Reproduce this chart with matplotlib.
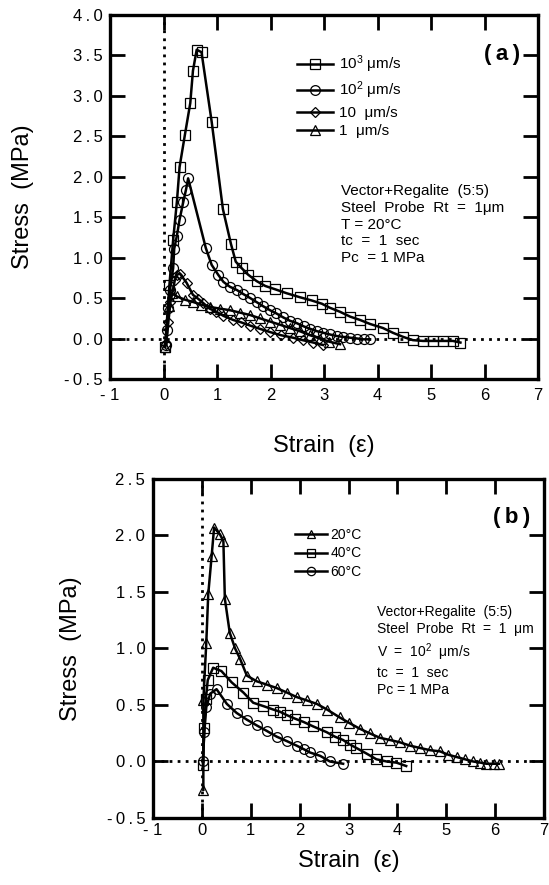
import numpy as np
import matplotlib
matplotlib.use('Agg')
import matplotlib.pyplot as plt
from matplotlib.lines import Line2D

plt.rcParams['font.family'] = ['Liberation Sans', 'DejaVu Sans']
plt.rcParams['mathtext.fontset'] = 'custom'
plt.rcParams['mathtext.rm'] = 'Liberation Sans'
plt.rcParams['mathtext.it'] = 'Liberation Sans:italic'

#------------------------------------------------
# (a) vitesses de traction, T = 20 C
v1000_x = [0.03, 0.11, 0.18, 0.25, 0.30, 0.40, 0.50, 0.55, 0.62, 0.71, 0.90, 1.11, 1.26, 1.35,
           1.46, 1.58, 1.74, 1.90, 2.08, 2.30, 2.55, 2.77, 2.96, 3.11, 3.30, 3.49, 3.67, 3.86,
           4.10, 4.29, 4.48, 4.66, 4.85, 5.04, 5.23, 5.41, 5.55]
v1000_y = [-0.10, 0.66, 1.22, 1.69, 2.12, 2.52, 2.91, 3.31, 3.57, 3.54, 2.68, 1.60, 1.17, 0.95,
           0.87, 0.79, 0.71, 0.65, 0.61, 0.56, 0.51, 0.47, 0.43, 0.38, 0.33, 0.27, 0.23, 0.18,
           0.13, 0.07, 0.02, -0.02, -0.03, -0.03, -0.03, -0.03, -0.05]

v100_x = [0.05, 0.07, 0.09, 0.12, 0.18, 0.20, 0.25, 0.30, 0.37, 0.42, 0.46, 0.79, 0.90, 1.02,
          1.12, 1.24, 1.37, 1.49, 1.62, 1.74, 1.86, 1.99, 2.11, 2.24, 2.36, 2.49, 2.62, 2.74,
          2.87, 2.99, 3.11, 3.24, 3.36, 3.49, 3.62, 3.74, 3.86]
v100_y = [-0.08, 0.11, 0.38, 0.60, 0.87, 1.11, 1.27, 1.47, 1.69, 1.84, 1.98, 1.12, 0.91, 0.79,
          0.70, 0.64, 0.60, 0.55, 0.50, 0.45, 0.40, 0.35, 0.31, 0.26, 0.22, 0.19, 0.15, 0.12,
          0.09, 0.07, 0.05, 0.03, 0.02, 0.01, 0.00, -0.01, -0.01]

v10_x = [0.05, 0.09, 0.13, 0.21, 0.25, 0.31, 0.43, 0.55, 0.65, 0.74, 0.86, 0.99, 1.12, 1.30,
         1.45, 1.62, 1.80, 1.99, 2.20, 2.42, 2.60, 2.80, 2.98]
v10_y = [-0.07, 0.20, 0.45, 0.72, 0.79, 0.80, 0.69, 0.54, 0.49, 0.44, 0.37, 0.33, 0.28, 0.23,
         0.20, 0.16, 0.12, 0.08, 0.04, 0.01, -0.02, -0.05, -0.08]

v1_x = [0.03, 0.10, 0.15, 0.25, 0.40, 0.56, 0.70, 0.87, 1.05, 1.24, 1.43, 1.62, 1.80, 1.99,
        2.18, 2.36, 2.55, 2.74, 2.92, 3.10, 3.30]
v1_y = [-0.10, 0.40, 0.56, 0.52, 0.48, 0.45, 0.42, 0.39, 0.37, 0.35, 0.32, 0.29, 0.25, 0.21,
        0.17, 0.13, 0.09, 0.04, 0.00, -0.04, -0.07]

# (b) temperatures, V = 10^2 um/s
t20_x = [0.03, 0.03, 0.09, 0.13, 0.20, 0.25, 0.37, 0.44, 0.47, 0.57, 0.68, 0.78, 0.92, 1.12,
         1.33, 1.53, 1.74, 1.94, 2.15, 2.35, 2.56, 2.82, 3.02, 3.23, 3.43, 3.64, 3.85, 4.05,
         4.26, 4.46, 4.67, 4.87, 5.04, 5.21, 5.38, 5.55, 5.70, 5.82, 5.97, 6.08]
t20_y = [-0.25, 0.54, 1.05, 1.48, 1.82, 2.07, 2.01, 1.95, 1.44, 1.14, 1.00, 0.91, 0.76, 0.71,
         0.68, 0.65, 0.61, 0.57, 0.54, 0.51, 0.46, 0.39, 0.34, 0.29, 0.25, 0.21, 0.19, 0.17,
         0.14, 0.12, 0.10, 0.09, 0.06, 0.04, 0.02, 0.00, -0.01, -0.02, -0.02, -0.02]

t40_x = [0.02, 0.05, 0.08, 0.12, 0.23, 0.40, 0.61, 0.85, 1.05, 1.26, 1.46, 1.60, 1.74, 1.90,
         2.08, 2.28, 2.55, 2.72, 2.89, 3.03, 3.16, 3.37, 3.57, 3.78, 3.98, 4.18]
t40_y = [-0.03, 0.30, 0.55, 0.72, 0.83, 0.80, 0.70, 0.61, 0.52, 0.49, 0.46, 0.44, 0.41, 0.38,
         0.35, 0.31, 0.26, 0.22, 0.19, 0.15, 0.12, 0.07, 0.02, 0.00, -0.01, -0.04]

t60_x = [0.02, 0.05, 0.09, 0.17, 0.30, 0.51, 0.71, 0.92, 1.12, 1.33, 1.53, 1.74, 1.94, 2.08,
         2.21, 2.42, 2.62, 2.89]
t60_y = [0.00, 0.26, 0.48, 0.60, 0.64, 0.51, 0.43, 0.37, 0.32, 0.27, 0.22, 0.18, 0.14, 0.11,
         0.08, 0.05, 0.00, -0.02]

xticks = np.arange(-1, 8)
yticks_a = np.arange(-0.5, 4.01, 0.5)
yticks_b = np.arange(-0.5, 2.51, 0.5)

labels_a = ['10$^{3}$ μm/s', '10$^{2}$ μm/s', '10  μm/s', '1  μm/s']
labels_b = ['20°C', '40°C', '60°C']

note_a = 'Vector+Regalite  (5:5)\nSteel  Probe  Rt  =  1μm\nT = 20°C\ntc  =  1  sec\nPc  = 1 MPa'
note_b = 'Vector+Regalite  (5:5)\nSteel  Probe  Rt  =  1  μm\nV  =  10$^{2}$  μm/s\ntc  =  1  sec\nPc = 1 MPa'

TS = '\u2009'


def espace(s):
    # lettres espacees comme sur l'original
    return TS.join(list(s))


def habille(ax, ymin, ymax, yticks, xpad, ypad):
    ax.set_xlim(-1, 7)
    ax.set_ylim(ymin, ymax)
    ax.set_xticks(xticks)
    ax.set_xticklabels(['- 1' if v < 0 else str(v) for v in xticks])
    ax.set_yticks(yticks)
    ax.set_yticklabels([espace('%.1f' % v) for v in yticks])
    ax.tick_params(direction='in', length=11, width=2, top=True, right=True, labelsize=12)
    ax.tick_params(axis='x', pad=xpad)
    ax.tick_params(axis='y', pad=ypad)
    for s in ax.spines.values():
        s.set_linewidth(2.4)
    # lignes pointillees a zero
    ax.axhline(0, color='k', lw=2.0, dashes=(1, 1.9), zorder=1)
    ax.axvline(0, color='k', lw=2.0, dashes=(1, 1.9), zorder=1)
    ax.set_xlabel('Strain  (ε)', fontsize=17)
    ax.set_ylabel('Stress  (MPa)', fontsize=17)


def courbe(ax, x, y, m, ms):
    ax.plot(x, y, color='k', lw=1.8, marker=m, ms=ms, mfc='none', mec='k', mew=0.9, zorder=3)


fig = plt.figure(figsize=(5.49, 8.85), dpi=100)

#------------------------------------------------
ax1 = fig.add_axes([0.2004, 0.5718, 0.7796, 0.4113])
courbe(ax1, v1000_x, v1000_y, 's', 6.8)
courbe(ax1, v100_x, v100_y, 'o', 7.2)
courbe(ax1, v10_x, v10_y, 'D', 5.2)
courbe(ax1, v1_x, v1_y, '^', 7.2)
habille(ax1, -0.5, 4.0, yticks_a, 6.5, 5.5)
ax1.xaxis.set_label_coords(0.5, -0.155)
ax1.yaxis.set_label_coords(-0.178, 0.5)

h_a = [Line2D([], [], color='k', lw=1.8, marker=m, ms=s, mfc='none', mew=0.9)
       for m, s in zip(['s', 'o', 'D', '^'], [7, 7, 5, 7])]
ax1.legend(h_a, labels_a, loc='upper left', bbox_to_anchor=(0.42, 0.915), frameon=False,
           fontsize=11, handlelength=2.3, handletextpad=0.45, labelspacing=0.3, borderpad=0)
ax1.text(0.958, 0.89, '(' + TS + 'a' + TS + ')', transform=ax1.transAxes, ha='right', va='center',
         fontsize=16, fontweight='bold')
ax1.text(0.540, 0.535, note_a, transform=ax1.transAxes, ha='left', va='top',
         fontsize=11, linespacing=1.25)

#------------------------------------------------
ax2 = fig.add_axes([0.2787, 0.0757, 0.7122, 0.3831])
courbe(ax2, t20_x, t20_y, '^', 7.2)
courbe(ax2, t40_x, t40_y, 's', 6.6)
courbe(ax2, t60_x, t60_y, 'o', 7.0)
habille(ax2, -0.5, 2.5, yticks_b, 3.5, 5.5)
ax2.xaxis.set_label_coords(0.5, -0.094)
ax2.yaxis.set_label_coords(-0.182, 0.5)

h_b = [Line2D([], [], color='k', lw=1.8, marker=m, ms=6, mfc='none', mew=0.9)
       for m in ['^', 's', 'o']]
ax2.legend(h_b, labels_b, loc='upper left', bbox_to_anchor=(0.345, 0.875), frameon=False,
           fontsize=10, handlelength=2.3, handletextpad=0.25, labelspacing=0.3, borderpad=0)
ax2.text(0.964, 0.885, '(' + TS + 'b' + TS + ')', transform=ax2.transAxes, ha='right', va='center',
         fontsize=16, fontweight='bold')
ax2.text(0.573, 0.628, note_b, transform=ax2.transAxes, ha='left', va='top',
         fontsize=10, linespacing=1.3)

fig.savefig('out.png', dpi=100)
